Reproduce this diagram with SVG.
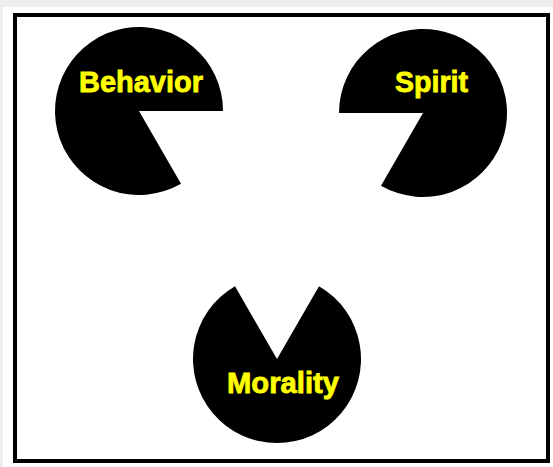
<svg xmlns="http://www.w3.org/2000/svg" width="553" height="467" viewBox="0 0 553 467">
  <style>
    .pac { fill: #000000; }
    .lbl { font-family: "Liberation Sans", Arial, sans-serif; font-weight: bold; font-size: 29px; fill: #ffff00; stroke: #ffff00; stroke-width: 0.8px; }
  </style>
  <rect x="0" y="0" width="553" height="467" fill="#eeeeee"/>
  <rect x="3" y="7" width="550" height="460" fill="#ffffff"/>
  <rect id="frame" x="15" y="15" width="533" height="446" fill="#ffffff" stroke="#000000" stroke-width="4"/>
  <g id="connectors"></g>
  <g id="behavior">
    <path class="pac" d="M 139 111 L 223 111 A 84 84 0 1 0 181 183.7 Z"/>
    <text class="lbl" x="79" y="92" textLength="124" lengthAdjust="spacingAndGlyphs">Behavior</text>
  </g>
  <g id="spirit">
    <path class="pac" d="M 423 113 L 339 113 A 84 84 0 1 1 381 185.7 Z"/>
    <text class="lbl" x="395" y="92" textLength="73" lengthAdjust="spacingAndGlyphs">Spirit</text>
  </g>
  <g id="morality">
    <path class="pac" d="M 277 359 L 319 286.3 A 84 84 0 1 1 235 286.3 Z"/>
    <text class="lbl" x="227" y="393" textLength="112" lengthAdjust="spacingAndGlyphs">Morality</text>
  </g>
</svg>
